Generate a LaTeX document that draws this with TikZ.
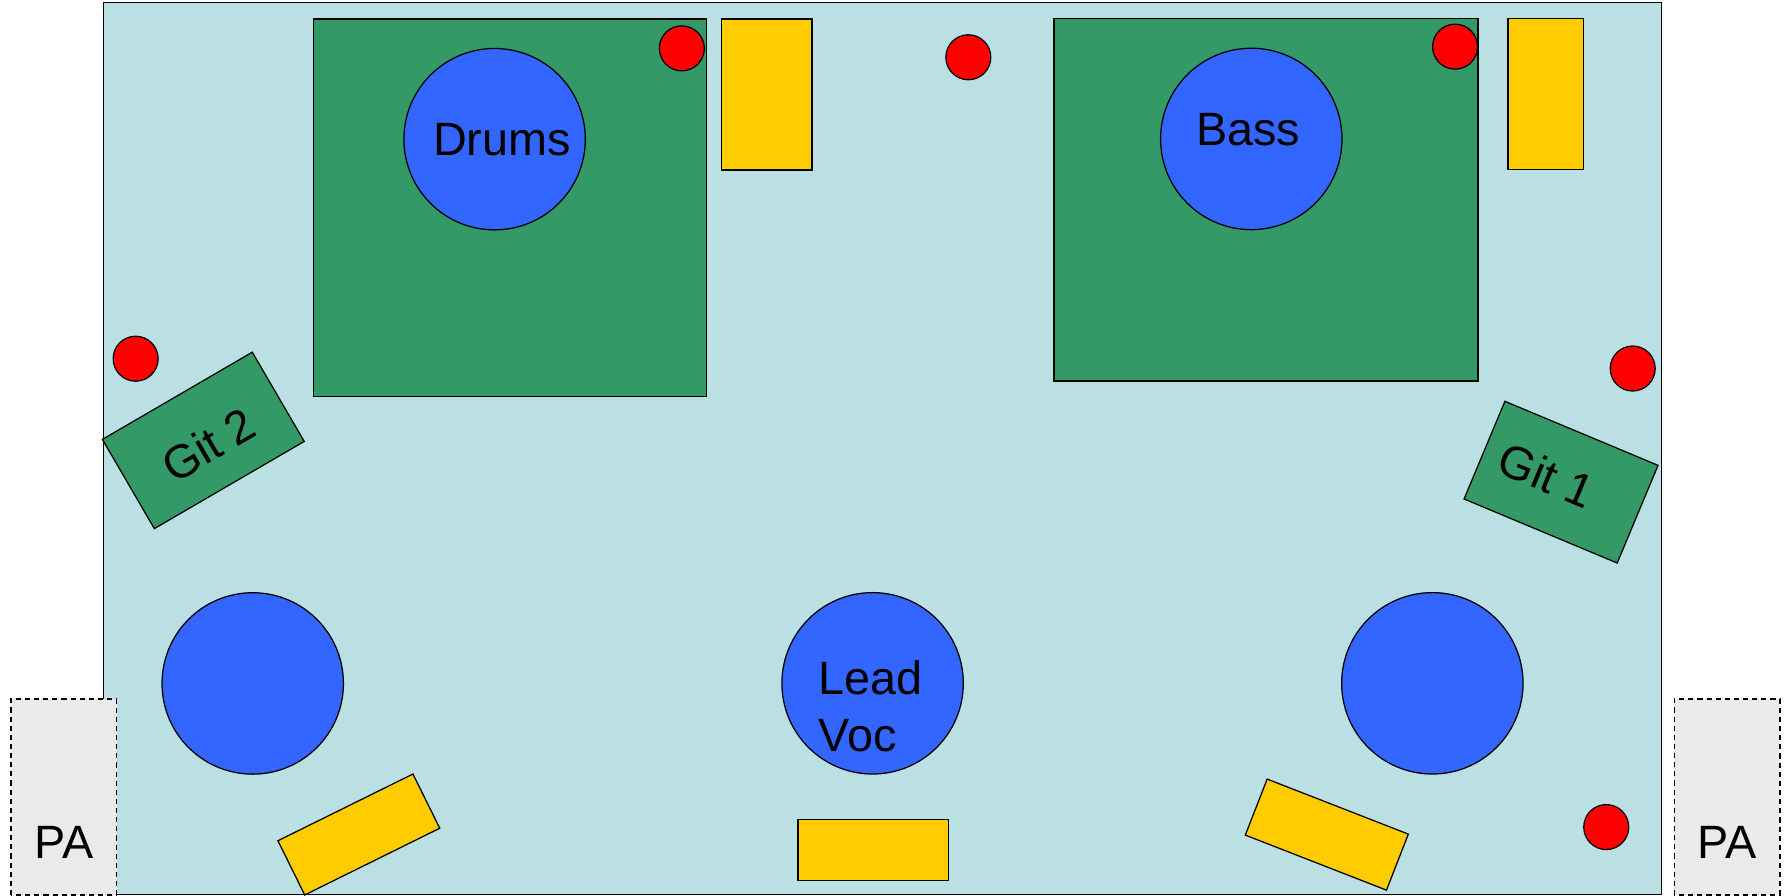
\documentclass[tikz,border=0pt]{standalone}
\usepackage{fontspec}
\setmainfont{Liberation Sans}
\usepackage{tikz}
\usepackage{xcolor}
\usetikzlibrary{calc, positioning}

\definecolor{stagebg}{HTML}{BBE0E3}
\definecolor{risergreen}{HTML}{339966}
\definecolor{playerblue}{HTML}{3366FF}
\definecolor{wedgeyellow}{HTML}{FFCC00}
\definecolor{pagray}{HTML}{EAEAEA}

\begin{document}
\begin{tikzpicture}[x=1pt, y=1pt, line width=1.1pt,
    font=\fontsize{41}{50}\selectfont,
    riser/.style={draw, fill=risergreen},
    player/.style={draw, circle, fill=playerblue, minimum size=159, inner sep=0},
    outlet/.style={draw, circle, fill=red, minimum size=39.4, inner sep=0},
    wedge/.style={draw, fill=wedgeyellow, inner sep=0},
    pabox/.style={draw, dashed, dash pattern=on 4.5pt off 3.5pt, fill=pagray}]
                        \useasboundingbox (0, 0) rectangle (1568, 785.3);

                        % stage
                        \draw[fill=stagebg] (91, 1) rectangle (1456, 783);

                        % risers
                        \draw[riser] (274.5, 437.6) rectangle (619.5, 768.6);
                        \draw[riser] (923.8, 451.3) rectangle (1295.4, 769.3);
                        \node[riser, minimum width=152, minimum height=90.5, rotate=30.2] (gittwo) at (178.2, 399.3) {};
                        \node[riser, minimum width=145.5, minimum height=92.8, rotate=-22.7] (gitone) at (1368.2, 362.7) {};
                        \node[rotate=30.2] (gittwotxt) at ([xshift=4.4, yshift=-4]gittwo.center) {Git 2};
                        \node[rotate=-22.7] (gitonetxt) at ([xshift=-12.6, yshift=6.3]gitone.center) {Git 1};

                        % players
                        \node[player] (drums) at (433.5, 663.3) {};
                        \node[player] (bass) at (1096.7, 663.5) {};
                        \node[player] (left) at (221.5, 186.3) {};
                        \node[player] (lead) at (764.8, 186.4) {};
                        \node[player] (right) at (1255.4, 186.4) {};
                        \node[inner sep=0] (drumstxt) at ([xshift=6.5]drums.center) {Drums};
                        \node[inner sep=0] (basstxt) at ([xshift=-2.7, yshift=8.5]bass.center) {Bass};
                        \node[inner sep=0, anchor=west, align=left] (leadtxt) at (717, 166.6) {Lead\\Voc};

                        % wedges
                        \draw[wedge] (632.6, 636.3) rectangle (711.7, 768.6);
                        \draw[wedge] (1321.6, 636.9) rectangle (1388, 769.3);
                        \draw[wedge] (699.4, 13.5) rectangle (831.3, 67.3);
                        \node[wedge, minimum width=132, minimum height=53, rotate=26.3] (wedgeleft) at (314.5, 53.9) {};
                        \node[wedge, minimum width=132.8, minimum height=52.7, rotate=-21.3] (wedgeright) at (1162.9, 53.8) {};

                        % outlets
                        \foreach \x/\y in {597.6/742.9, 848.7/735.1, 1275.3/744.4, 118.9/470.9, 1431/462.3, 1407.8/60.4} {
                            \node[outlet] () at (\x, \y) {};
                        }

                        % PA
                        \draw[pabox] (9.6, 0.8) rectangle (102.3, 172.6);
                        \draw[pabox] (1467.5, 0.8) rectangle (1560, 172.6);
                        \node[] (paleft) at (56.5, 46.6) {PA};
                        \node[] (paright) at (1514, 46.6) {PA};
\end{tikzpicture}
\end{document}
